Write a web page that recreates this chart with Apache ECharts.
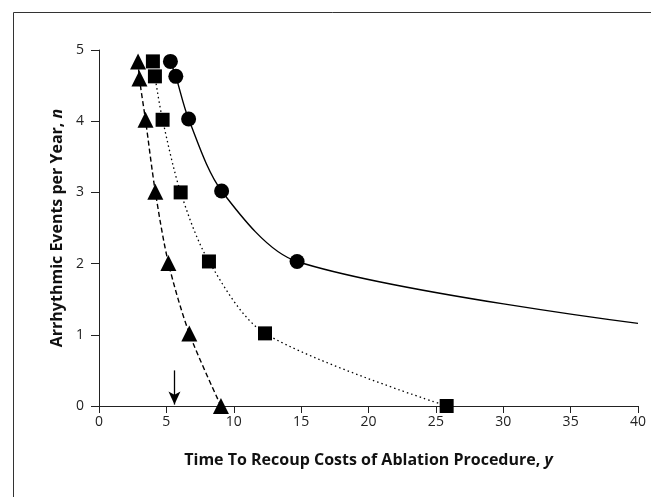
<!DOCTYPE html>
<html>
<head>
<meta charset="utf-8">
<script src="https://cdn.jsdelivr.net/npm/echarts@6/dist/echarts.min.js"></script>
<style>html,body{margin:0;padding:0;background:#fff}#c{width:660px;height:497px}</style>
</head>
<body>
<div id="c"></div>
<script>
// Data
var circleX = [5.3, 5.7, 6.65, 9.1, 14.7];
var circleY = [4.84, 4.63, 4.03, 3.02, 2.03];
var solidTailX = [40];
var solidTailY = [1.16];

var squareX = [4.0, 4.15, 4.72, 6.06, 8.16, 12.32, 25.8];
var squareY = [4.84, 4.63, 4.02, 3.0, 2.03, 1.02, 0.0];

var triX = [2.9, 3.0, 3.45, 4.18, 5.15, 6.7, 9.05];
var triY = [4.84, 4.6, 4.02, 3.01, 2.01, 1.02, 0.0];

var arrowX = 5.6;
var arrowY = [0.5, 0.02];

var xTicks = [0, 5, 10, 15, 20, 25, 30, 35, 40];
var yTicks = [0, 1, 2, 3, 4, 5];

function pts(xs, ys) { return xs.map(function (x, i) { return [x, ys[i]]; }); }

var solidData = pts(circleX, circleY).concat(
  pts(solidTailX, solidTailY).map(function (p) { return { value: p, symbol: 'none' }; })
);

var font = '"Open Sans", "Noto Sans", sans-serif';
var chart = echarts.init(document.getElementById('c'));
chart.setOption({
  animation: false,
  backgroundColor: '#fff',
  graphic: [{
    type: 'polyline',
    shape: { points: [[13.5, 560], [13.5, 12.5], [651, 12.5]] },
    style: { stroke: '#333', lineWidth: 1, fill: null },
    silent: true
  }],
  grid: { left: 99, right: 22, top: 50, bottom: 91 },
  xAxis: {
    type: 'value', min: 0, max: 40, interval: 5,
    axisLine: { show: true, onZero: false, lineStyle: { color: '#222', width: 1 } },
    axisTick: { show: true, length: 7, lineStyle: { color: '#222' } },
    axisLabel: { color: '#222', fontSize: 14, fontFamily: font, margin: 9,
      formatter: function (v) { return xTicks.indexOf(v) >= 0 ? String(v) : ''; } },
    splitLine: { show: false },
    name: '{b|Time To Recoup Costs of Ablation Procedure, }{i|y}',
    nameLocation: 'middle', nameGap: 46,
    nameTextStyle: { rich: {
      b: { fontSize: 16, fontWeight: 'bold', fontFamily: font, color: '#111' },
      i: { fontSize: 16, fontWeight: 'bold', fontStyle: 'italic', fontFamily: font, color: '#111' }
    } }
  },
  yAxis: {
    type: 'value', min: 0, max: 5, interval: 1,
    axisLine: { show: true, onZero: false, lineStyle: { color: '#222', width: 1 } },
    axisTick: { show: true, length: 8, lineStyle: { color: '#222' } },
    axisLabel: { color: '#222', fontSize: 14, fontFamily: font, margin: 15,
      formatter: function (v) { return yTicks.indexOf(v) >= 0 ? String(v) : ''; } },
    splitLine: { show: false },
    name: '{b|Arrhythmic Events per Year, }{i|n}',
    nameLocation: 'middle', nameGap: 33, nameRotate: 90,
    nameTextStyle: { rich: {
      b: { fontSize: 16, fontWeight: 'bold', fontFamily: font, color: '#111' },
      i: { fontSize: 16, fontWeight: 'bold', fontStyle: 'italic', fontFamily: font, color: '#111' }
    } }
  },
  series: [
    {
      type: 'line', data: solidData, smooth: 0.3,
      symbol: 'circle', symbolSize: 15,
      itemStyle: { color: '#000' },
      lineStyle: { color: '#000', width: 1.4, type: 'solid' },
      z: 3
    },
    {
      type: 'line', data: pts(squareX, squareY), smooth: 0.3,
      symbol: 'rect', symbolSize: 14,
      itemStyle: { color: '#000' },
      lineStyle: { color: '#000', width: 1.3, type: [1.5, 3] },
      z: 3
    },
    {
      type: 'line', data: pts(triX, triY), smooth: 0.3,
      symbol: 'triangle', symbolSize: 16,
      itemStyle: { color: '#000' },
      lineStyle: { color: '#000', width: 1.4, type: [5, 3] },
      z: 3,
      markLine: {
        silent: true, animation: false,
        symbol: ['none', 'arrow'], symbolSize: [9, 13],
        label: { show: false },
        lineStyle: { color: '#000', width: 1.3, type: 'solid' },
        data: [[{ coord: [arrowX, arrowY[0]] }, { coord: [arrowX, arrowY[1]] }]]
      }
    }
  ]
});
</script>
</body>
</html>
